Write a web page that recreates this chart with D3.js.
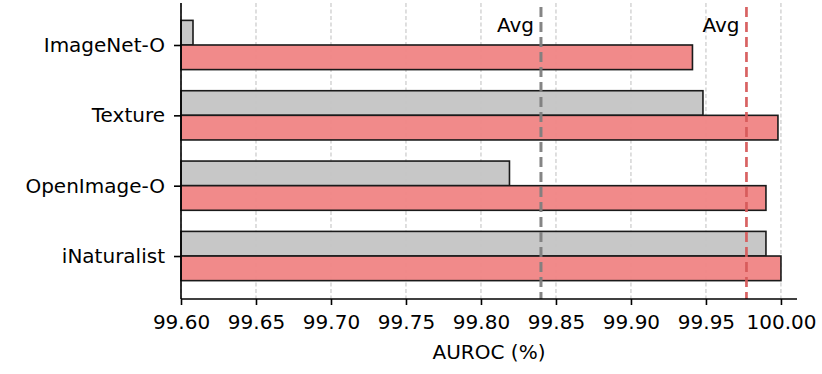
<!DOCTYPE html>
<html>
<head>
<meta charset="utf-8">
<script src="https://cdn.jsdelivr.net/npm/d3@7"></script>
<style>
  body { margin: 0; background: #fff; }
  text { font-family: "DejaVu Sans", sans-serif; fill: #000; }
</style>
</head>
<body>
<div id="chart"></div>
<script>
// data
const datasets = ["ImageNet-O", "Texture", "OpenImage-O", "iNaturalist"];
const baseline = [99.608, 99.948, 99.819, 99.990];
const ours = [99.941, 99.998, 99.990, 100.000];
const avgValues = [99.840, 99.977];
const xTicks = [99.60, 99.65, 99.70, 99.75, 99.80, 99.85, 99.90, 99.95, 100.00];

const width = 822, height = 374;
const plotLeft = 181, plotRight = 797, plotTop = 3, plotBottom = 299;

const svg = d3.select("#chart").append("svg")
  .attr("width", width)
  .attr("height", height);

const x = d3.scaleLinear().domain([99.60, 100.0107]).range([plotLeft, plotRight]);
const y = d3.scaleLinear().domain([-0.597, 3.611]).range([plotTop, plotBottom]);
const barH = y(0.35) - y(0);

// grid
svg.append("g").selectAll("line")
  .data(xTicks).enter().append("line")
  .attr("x1", d => x(d)).attr("x2", d => x(d))
  .attr("y1", plotTop).attr("y2", plotBottom)
  .attr("stroke", "#b0b0b0")
  .attr("stroke-width", 1)
  .attr("stroke-dasharray", "4,2.5")
  .attr("opacity", 0.8);

// bars
const bars = svg.append("g");
bars.selectAll("rect.base")
  .data(baseline).enter().append("rect")
  .attr("class", "base")
  .attr("x", x(99.60))
  .attr("y", (d, i) => y(i) - barH)
  .attr("width", d => x(d) - x(99.60))
  .attr("height", barH)
  .attr("fill", "#c4c4c4")
  .attr("fill-opacity", 0.95)
  .attr("stroke", "#1a1a1a")
  .attr("stroke-width", 1.6);
bars.selectAll("rect.ours")
  .data(ours).enter().append("rect")
  .attr("class", "ours")
  .attr("x", x(99.60))
  .attr("y", (d, i) => y(i))
  .attr("width", d => x(d) - x(99.60))
  .attr("height", barH)
  .attr("fill", "#f08484")
  .attr("fill-opacity", 0.95)
  .attr("stroke", "#1a1a1a")
  .attr("stroke-width", 1.6);

// average lines
const avgColors = ["#7f7f7f", "#d65a5a"];
svg.append("g").selectAll("line")
  .data(avgValues).enter().append("line")
  .attr("x1", d => x(d)).attr("x2", d => x(d))
  .attr("y1", plotTop + 4).attr("y2", plotBottom)
  .attr("stroke", (d, i) => avgColors[i])
  .attr("stroke-width", (d, i) => i === 0 ? 3 : 2.7)
  .attr("stroke-dasharray", "10,5")
  .attr("opacity", 0.95);
svg.append("g").selectAll("text")
  .data(avgValues).enter().append("text")
  .attr("x", d => x(d) - 7)
  .attr("y", 32)
  .attr("text-anchor", "end")
  .attr("font-size", 20)
  .text("Avg");

// axes
const xAxis = d3.axisBottom(x).tickValues(xTicks)
  .tickFormat(d3.format(".2f")).tickSize(6).tickPadding(10);
const gx = svg.append("g")
  .attr("transform", "translate(0," + plotBottom + ")")
  .call(xAxis);
gx.select(".domain").attr("d", "M" + plotLeft + ",0H" + plotRight).attr("stroke-width", 1.6);
gx.selectAll(".tick line").attr("stroke-width", 1.6);
gx.selectAll("text").attr("font-size", 20).attr("font-family", "DejaVu Sans");

const yAxis = d3.axisLeft(y).tickValues([0, 1, 2, 3])
  .tickFormat(i => datasets[i]).tickSize(7).tickPadding(9);
const gy = svg.append("g")
  .attr("transform", "translate(" + plotLeft + ",0)")
  .call(yAxis);
gy.select(".domain").attr("d", "M0," + plotTop + "V" + plotBottom).attr("stroke-width", 1.6);
gy.selectAll(".tick line").attr("stroke-width", 1.6);
gy.selectAll("text").attr("font-size", 20).attr("font-family", "DejaVu Sans");

svg.append("text")
  .attr("x", (x(99.60) + x(100.0107)) / 2)
  .attr("y", 359)
  .attr("text-anchor", "middle")
  .attr("font-size", 20)
  .text("AUROC (%)");
</script>
</body>
</html>
